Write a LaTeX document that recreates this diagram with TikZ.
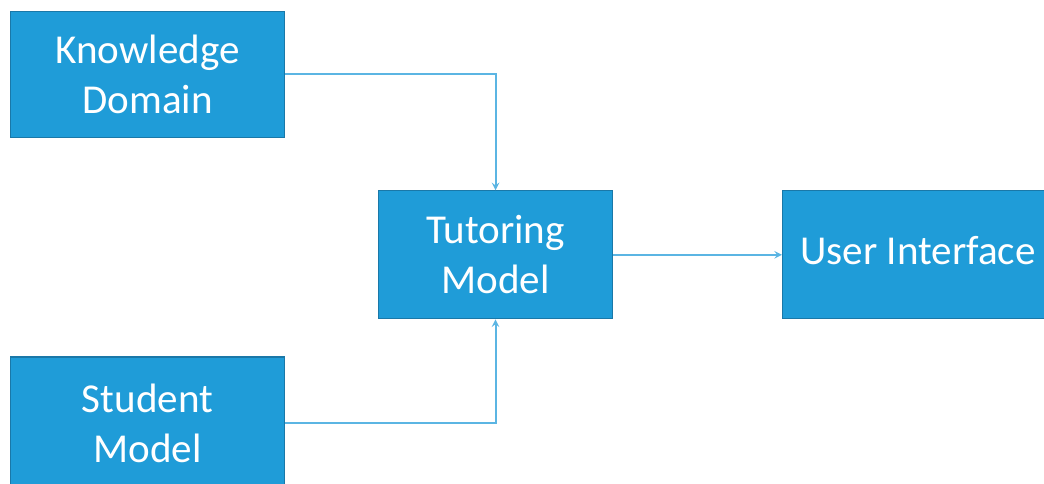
\documentclass[tikz,border=0pt]{standalone}
\usepackage{fontspec}
\setmainfont{Carlito}
\definecolor{boxfill}{HTML}{1F9CD8}
\definecolor{boxline}{HTML}{1A78A8}
\definecolor{arrowline}{HTML}{5BB5E3}
\tikzset{
  block/.style={draw=boxline,line width=0.8pt,fill=boxfill,text=white,inner sep=0pt,
    align=center,font=\fontsize{30.8}{37.5}\selectfont},
  link/.style={draw=arrowline,line width=1.5pt,->}
}
\begin{document}
\begin{tikzpicture}[>=stealth,x=0.75pt,y=0.75pt]
	\useasboundingbox (0,0) rectangle (1044,483);
	\clip (0,0) rectangle (1044,483);
	% boxes
	\node[block,minimum width=206pt,minimum height=95pt] (kd) at (147.5,408.5) {Knowledge\\Domain};
	\node[block,minimum width=206pt,minimum height=99pt] (sm) at (147.5,60) {Student\\Model};
	\node[block,minimum width=176pt,minimum height=96pt] (tm) at (495.5,228.2) {Tutoring\\Model};
	\node[block,minimum width=204pt,minimum height=96pt,anchor=west] (ui) at (782,228.2) {};
	\node[text=white,font=\fontsize{30.8}{37.5}\selectfont] (uitext) at (918,232) {User Interface};
	% connectors
	\draw[link] (kd.east) -| (tm.north);
	\draw[link] (sm.east) -| (tm.south);
	\draw[link] (tm.east) -- (ui.west);
\end{tikzpicture}
\end{document}
